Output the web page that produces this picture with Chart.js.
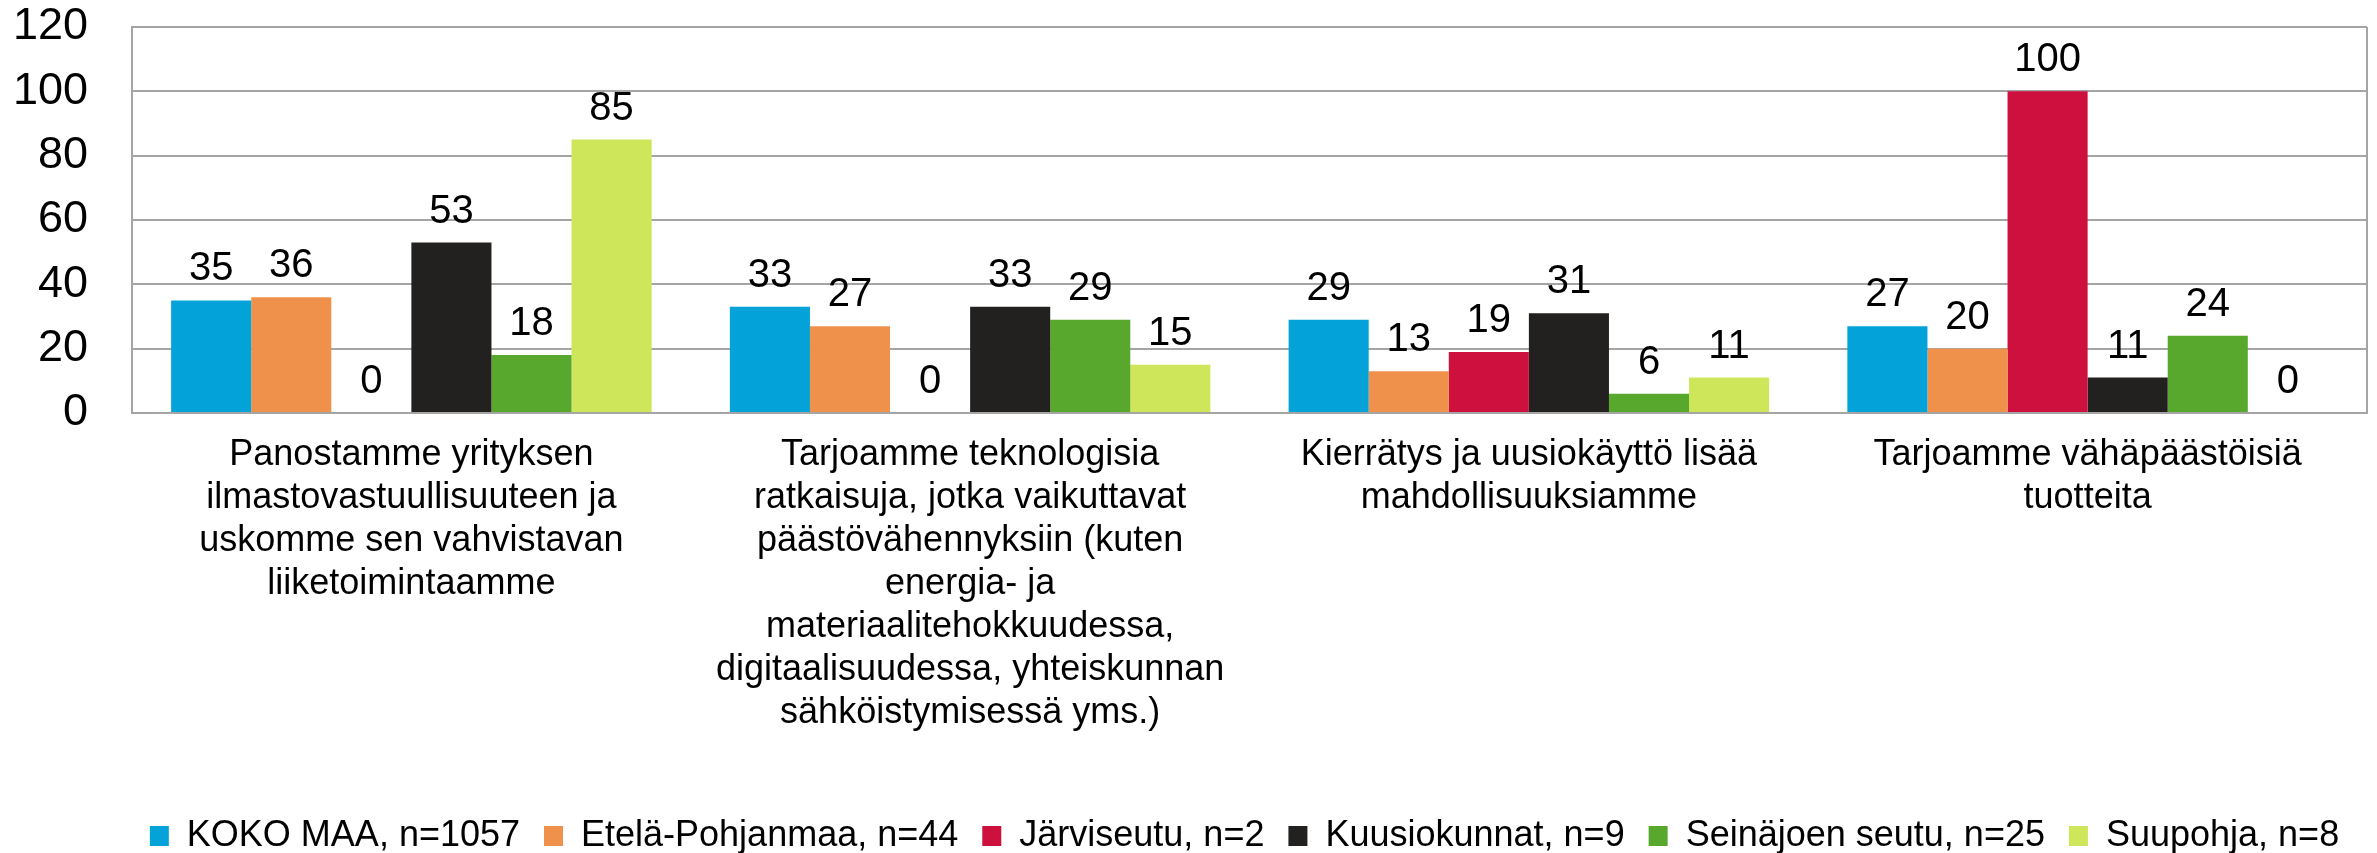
<!DOCTYPE html>
<html>
<head>
<meta charset="utf-8">
<script src="https://cdn.jsdelivr.net/npm/chart.js@4"></script>
<style>
  html, body { margin: 0; padding: 0; background: #ffffff; }
  #wrap { width: 2377px; height: 853px; position: relative; }
</style>
</head>
<body>
<div id="wrap"><canvas id="c" width="2377" height="853"></canvas></div>
<script>
const categories = [
  ["Panostamme yrityksen", "ilmastovastuullisuuteen ja", "uskomme sen vahvistavan", "liiketoimintaamme"],
  ["Tarjoamme teknologisia", "ratkaisuja, jotka vaikuttavat", "päästövähennyksiin (kuten", "energia- ja", "materiaalitehokkuudessa,", "digitaalisuudessa, yhteiskunnan", "sähköistymisessä yms.)"],
  ["Kierrätys ja uusiokäyttö lisää", "mahdollisuuksiamme"],
  ["Tarjoamme vähäpäästöisiä", "tuotteita"]
];
const seriesNames = ["KOKO MAA, n=1057", "Etelä-Pohjanmaa, n=44", "Järviseutu, n=2", "Kuusiokunnat, n=9", "Seinäjoen seutu, n=25", "Suupohja, n=8"];
const kokoMaa = [35, 33, 29, 27];
const etelaPohjanmaa = [36, 27, 13, 20];
const jarviseutu = [0, 0, 19, 100];
const kuusiokunnat = [53, 33, 31, 11];
const seinajoenSeutu = [18, 29, 6, 24];
const suupohja = [85, 15, 11, 0];
const seriesColors = ["#03A3D9", "#F0914B", "#CE103E", "#22211F", "#58A82E", "#CEE75A"];
const yTicks = [0, 20, 40, 60, 80, 100, 120];

const seriesValues = [kokoMaa, etelaPohjanmaa, jarviseutu, kuusiokunnat, seinajoenSeutu, suupohja];
const FONT = "'Liberation Sans', Arial, sans-serif";
const GRID = "#A5A5A5";

const valueLabels = {
  id: 'valueLabels',
  afterDatasetsDraw(chart) {
    const ctx = chart.ctx;
    ctx.save();
    ctx.font = "40px " + FONT;
    ctx.fillStyle = "#000";
    ctx.textAlign = "center";
    ctx.textBaseline = "alphabetic";
    chart.data.datasets.forEach((ds, di) => {
      const meta = chart.getDatasetMeta(di);
      meta.data.forEach((bar, i) => {
        ctx.fillText(String(ds.data[i]), bar.x, bar.y - 20);
      });
    });
    ctx.restore();
  }
};

const frame = {
  id: 'frame',
  beforeDatasetsDraw(chart) {
    const a = chart.chartArea, ctx = chart.ctx;
    ctx.save();
    ctx.strokeStyle = GRID;
    ctx.lineWidth = 2;
    ctx.beginPath();
    ctx.moveTo(a.right, a.top);
    ctx.lineTo(a.right, a.bottom);
    ctx.stroke();
    ctx.restore();
  }
};

const legendShift = {
  id: 'legendShift',
  afterLayout(chart) {
    const a = chart.chartArea;
    const shift = (a.left + a.right) / 2 - chart.width / 2;
    chart.legend.left += shift;
    chart.legend.right += shift;
    chart.legend.top += 11;
    chart.legend.bottom += 11;
  }
};

new Chart(document.getElementById('c'), {
  type: 'bar',
  data: {
    labels: categories,
    datasets: seriesNames.map((n, i) => ({
      label: n,
      data: seriesValues[i],
      backgroundColor: seriesColors[i],
      borderWidth: 0,
      categoryPercentage: 0.86,
      barPercentage: 1.0
    }))
  },
  options: {
    responsive: false,
    animation: false,
    devicePixelRatio: 1,
    layout: { padding: { top: 0, right: 10, left: 0, bottom: 0 } },
    plugins: {
      legend: {
        position: 'bottom',
        labels: {
          font: { family: FONT, size: 36 },
          color: '#000',
          boxWidth: 19,
          boxHeight: 20,
          padding: 24
        }
      },
      tooltip: { enabled: false }
    },
    scales: {
      x: {
        grid: { display: false, drawTicks: false },
        border: { display: true, color: GRID, width: 2 },
        ticks: {
          font: { family: FONT, size: 36, lineHeight: '43px' },
          color: '#000',
          padding: 21,
          maxRotation: 0,
          autoSkip: false
        },
        afterFit(scale) { scale.height = 370; }
      },
      y: {
        min: 0,
        max: 120,
        afterBuildTicks(scale) { scale.ticks = yTicks.map(v => ({ value: v })); },
        grid: { color: GRID, lineWidth: 2, drawTicks: false },
        border: { display: true, color: GRID, width: 2 },
        ticks: {
          font: { family: FONT, size: 45 },
          color: '#000',
          padding: 44,
          autoSkip: false
        },
        afterFit(scale) {
          scale.width = 132;
          scale.paddingTop = 27;
          scale.paddingBottom = 0;
        }
      }
    }
  },
  plugins: [valueLabels, frame, legendShift]
});
</script>
</body>
</html>
